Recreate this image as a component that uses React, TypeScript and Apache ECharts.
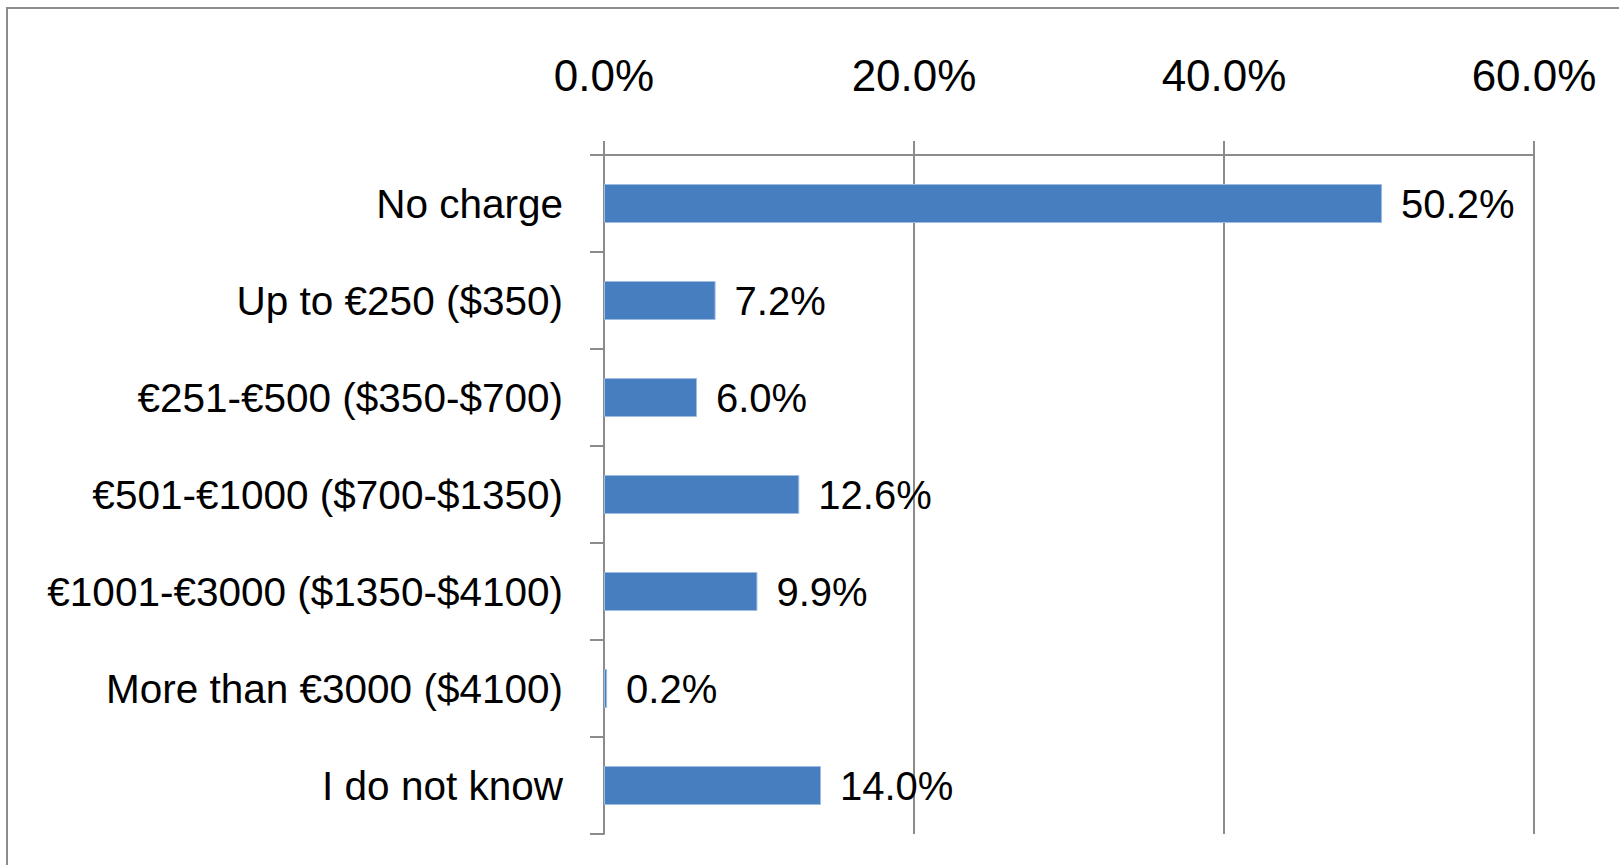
import React, { useEffect, useRef } from "react";
import * as echarts from "echarts";

const categories = [
  "No charge",
  "Up to €250 ($350)",
  "€251-€500 ($350-$700)",
  "€501-€1000 ($700-$1350)",
  "€1001-€3000 ($1350-$4100)",
  "More than €3000 ($4100)",
  "I do not know",
];
const values = [50.2, 7.2, 6.0, 12.6, 9.9, 0.2, 14.0];
const axisMin = 0;
const axisMax = 60;
const axisInterval = 20;

const FONT = "Liberation Sans";
const GRAY = "#8c8c8c";

export default function App() {
  const ref = useRef<HTMLDivElement>(null);
  useEffect(() => {
    if (!ref.current) return;
    const chart = echarts.init(ref.current, null, { renderer: "svg" });
    chart.setOption({
      animation: false,
      backgroundColor: "#ffffff",
      graphic: [
        {
          type: "rect",
          shape: { x: 7, y: 8, width: 1700, height: 1000 },
          style: { fill: "none", stroke: GRAY, lineWidth: 2 },
          silent: true,
        },
      ],
      grid: { left: 604, right: 85, top: 155, bottom: 31, containLabel: false },
      xAxis: {
        type: "value",
        position: "top",
        min: axisMin,
        max: axisMax,
        interval: axisInterval,
        axisLine: { show: true, lineStyle: { color: GRAY, width: 2 } },
        axisTick: { show: true, length: 14, lineStyle: { color: GRAY, width: 2 } },
        splitLine: { show: true, lineStyle: { color: GRAY, width: 2 } },
        axisLabel: {
          margin: 58,
          color: "#000",
          fontFamily: FONT,
          fontSize: 44,
          formatter: (v: number) => v.toFixed(1) + "%",
        },
      },
      yAxis: {
        type: "category",
        data: categories,
        inverse: true,
        axisLine: { show: true, lineStyle: { color: GRAY, width: 2 } },
        axisTick: { show: true, length: 14, lineStyle: { color: GRAY, width: 2 } },
        axisLabel: {
          margin: 41,
          color: "#000",
          fontFamily: FONT,
          fontSize: 40.5,
        },
      },
      series: [
        {
          type: "bar",
          data: values,
          barWidth: 39,
          itemStyle: { color: "#467ebf", borderColor: "#9fbde3", borderWidth: 1 },
          label: {
            show: true,
            position: "right",
            distance: 19,
            color: "#000",
            fontFamily: FONT,
            fontSize: 40,
            formatter: (p: any) => Number(p.value).toFixed(1) + "%",
          },
        },
      ],
    });
    return () => chart.dispose();
  }, []);
  return (
    <div
      ref={ref}
      style={{ position: "fixed", left: 0, top: 0, width: 1619, height: 865 }}
    />
  );
}
